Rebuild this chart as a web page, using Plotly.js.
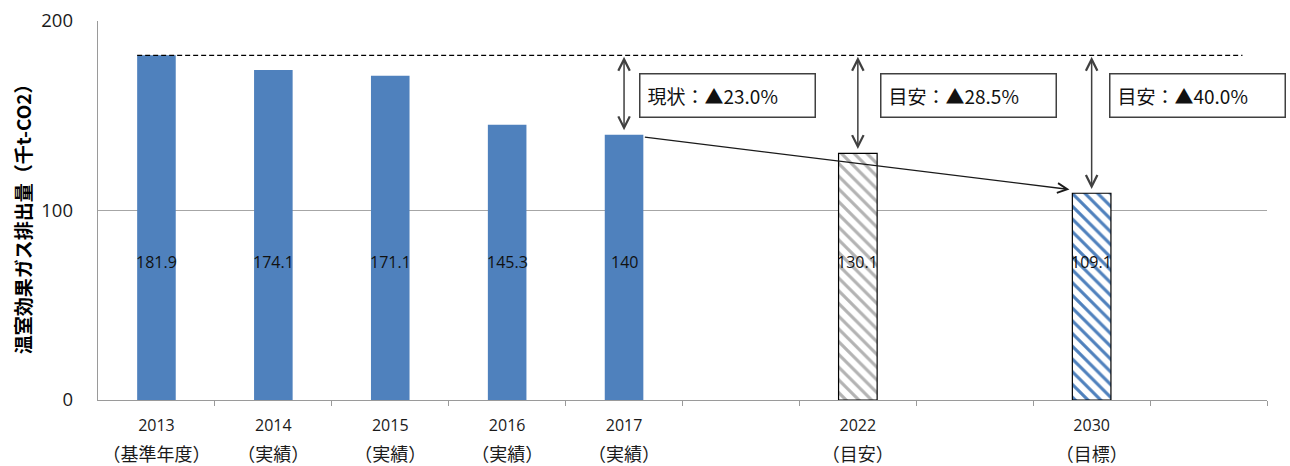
<!DOCTYPE html>
<html>
<head>
<meta charset="utf-8">
<script src="https://cdn.plot.ly/plotly-3.0.1.min.js"></script>
<style>
html,body{margin:0;padding:0;background:#fff;}
#chart{width:1290px;height:466px;}
</style>
</head>
<body>
<div id="chart"></div>
<script>
// ---- data ----
const categories = ['2013','2014','2015','2016','2017','','2022','','2030',''];
const notes = ['（基準年度）','（実績）','（実績）','（実績）','（実績）','','（目安）','','（目標）',''];
const actual = [181.9,174.1,171.1,145.3,140,null,null,null,null,null];
const target2022 = [null,null,null,null,null,null,130.1,null,null,null];
const target2030 = [null,null,null,null,null,null,null,null,109.1,null];
const reductionIdx = [4,6,8];
const reductionLabels = ['現状：▲23.0%','目安：▲28.5%','目安：▲40.0%'];
const yTicks = [0,100,200];
const yTitle = '温室効果ガス排出量（千t-CO2）';

// ---- build ----
const xs = categories.map((c,i)=>i);
const BLUE = '#4f81bd';
const FONT = "'Open Sans', 'Noto Sans CJK JP', sans-serif";
const JFONT = "'Noto Sans CJK JP', sans-serif";
const BW = 0.33;

const traces = [
  {type:'bar', x:xs, y:actual, width:BW, marker:{color:BLUE, line:{width:0}}, hoverinfo:'none'},
  {type:'bar', x:xs, y:target2022, width:BW,
   marker:{color:'white', line:{color:'#000', width:1.2},
           pattern:{shape:'\\', fgcolor:'#b3b3b3', bgcolor:'white', size:9, solidity:0.35}}, hoverinfo:'none'},
  {type:'bar', x:xs, y:target2030, width:BW,
   marker:{color:'white', line:{color:'#000', width:1.2},
           pattern:{shape:'\\', fgcolor:BLUE, bgcolor:'white', size:9, solidity:0.35}}, hoverinfo:'none'},
  // invisible trace to activate the second (label) x axis
  {type:'scatter', x:[xs[0]], y:[0], xaxis:'x2', mode:'markers', marker:{opacity:0}, hoverinfo:'none'}
];

const valueOf = i => [actual[i], target2022[i], target2030[i]].find(v => v !== null);
const annotations = [];
// value labels
xs.forEach(i => {
  const v = valueOf(i);
  if (v === undefined) return;
  annotations.push({x:i, y:73, xref:'x', yref:'y', text:String(v), showarrow:false,
    font:{family:FONT, size:16, color:'#111'}});
});
const baseline = actual[0];
// double arrows
reductionIdx.forEach(i => {
  annotations.push({x:i, y:valueOf(i)+2.3, ax:i, ay:baseline, xref:'x', yref:'y', axref:'x', ayref:'y',
    text:'', showarrow:true, arrowhead:5, startarrowhead:5, arrowside:'end+start',
    arrowsize:1.5, startarrowsize:1.5, arrowwidth:1.5, arrowcolor:'#404040'});
});
// label boxes
const boxX = [4.13, 6.19, 8.15];
reductionLabels.forEach((t,k) => {
  annotations.push({x:boxX[k], y:172.8, xref:'x', yref:'y', xanchor:'left', yanchor:'top',
    text:t, showarrow:false, align:'left', width:160, height:28, borderpad:7,
    bordercolor:'#404040', borderwidth:1.5, bgcolor:'white',
    font:{family:JFONT, size:19, color:'#111'}});
});
// trend arrow 2017 -> 2030
annotations.push({x:8-0.19, y:target2030[8]+2, ax:4+BW/2, ay:actual[4]-1.2,
  xref:'x', yref:'y', axref:'x', ayref:'y', text:'', showarrow:true,
  arrowhead:5, arrowsize:1.5, arrowwidth:1.3, arrowcolor:'#1a1a1a'});
// y-axis title
annotations.push({xref:'paper', yref:'paper', x:-0.065, y:0.49, text:yTitle, textangle:-90,
  showarrow:false, xanchor:'center', yanchor:'middle',
  font:{family:JFONT, size:19, color:'#000', weight:'bold'}});

const shapes = [
  {type:'line', xref:'x', yref:'y', x0:-BW/2, x1:9.29, y0:baseline, y1:baseline,
   line:{color:'#000', width:1.3, dash:'5px,3px'}}
];

const layout = {
  width:1290, height:466,
  margin:{l:98, r:23, t:21, b:66},
  paper_bgcolor:'white', plot_bgcolor:'white',
  showlegend:false, barmode:'overlay',
  font:{family:FONT, color:'#222'},
  xaxis:{range:[-0.5,9.5], tickvals:xs, ticktext:categories, ticks:'', showgrid:false,
    showline:true, linecolor:'#9a9a9a', linewidth:1.3, zeroline:false,
    tickfont:{family:FONT, size:16, color:'#1a1a1a'}, ticklabelstandoff:10,
    minor:{tickvals:xs.map(i=>i+0.5), ticks:'outside', ticklen:5, tickcolor:'#9a9a9a', tickwidth:1, showgrid:false},
    fixedrange:true},
  xaxis2:{range:[-0.5,9.5], overlaying:'x', anchor:'y', side:'bottom', tickvals:xs, ticktext:notes,
    ticks:'', showgrid:false, showline:false, zeroline:false,
    tickfont:{family:JFONT, size:18, color:'#1a1a1a'}, ticklabelstandoff:42, fixedrange:true},
  yaxis:{range:[0,200], tickvals:yTicks, ticks:'', showgrid:true, gridcolor:'#a6a6a6', gridwidth:1.2,
    showline:true, linecolor:'#9a9a9a', linewidth:1.3, zeroline:false,
    tickfont:{family:FONT, size:18.5, color:'#1a1a1a'}, ticklabelstandoff:20,
    fixedrange:true},
  annotations:annotations,
  shapes:shapes
};

Plotly.newPlot('chart', traces, layout, {displayModeBar:false, staticPlot:true});
</script>
</body>
</html>
